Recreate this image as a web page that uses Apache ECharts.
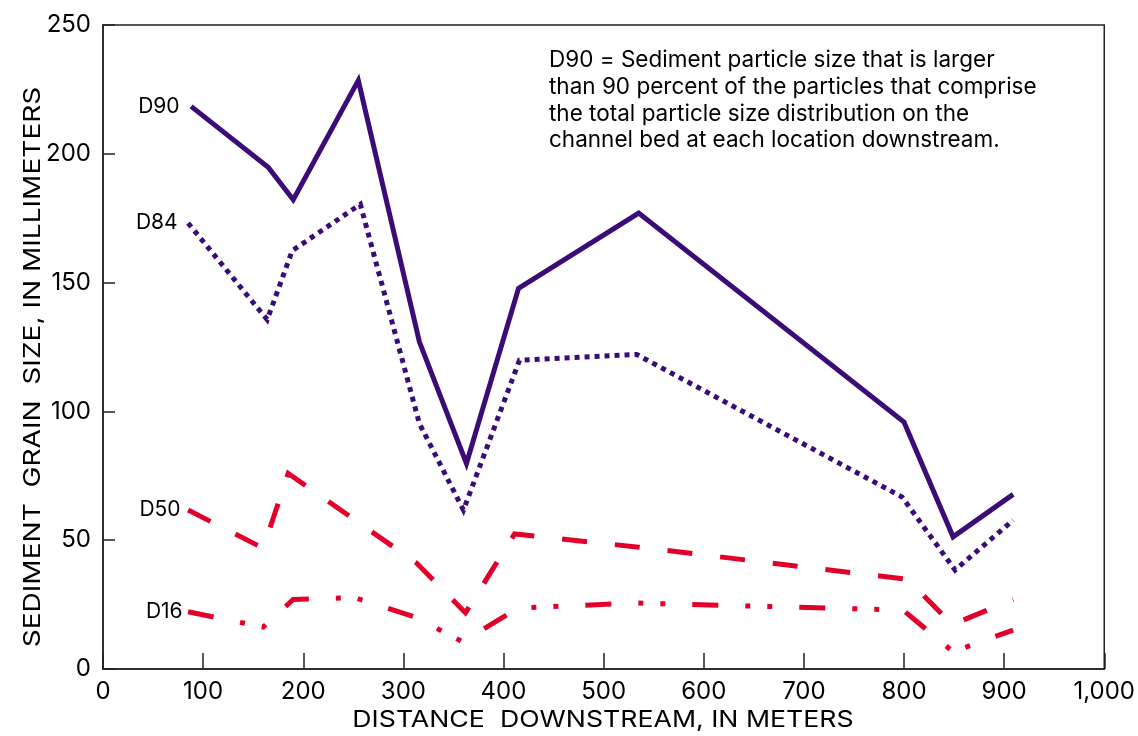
<!DOCTYPE html>
<html>
<head>
<meta charset="utf-8">
<script src="https://cdn.jsdelivr.net/npm/echarts@6/dist/echarts.min.js"></script>
<style>
  html, body { margin: 0; padding: 0; background: #fff; }
  #chart { width: 1138px; height: 736px; }
</style>
</head>
<body>
<div id="chart"></div>
<script>
// distance downstream (m) and grain size (mm)
var distD90 = [88, 165, 190, 255, 316, 363, 415, 535, 800, 849, 909];
var d90 = [218.4, 194.8, 182.2, 228.5, 127, 79.8, 147.8, 177, 95.9, 51.3, 67.8];

var distD84 = [85, 164, 189, 257, 316, 360, 416, 533, 798, 851, 909];
var d84 = [173.1, 135.6, 162.4, 180.4, 95.3, 61.7, 119.9, 122.1, 66.8, 38.4, 57.8];

var distD50 = [85, 160, 185, 313, 362, 411, 535, 804, 848, 909];
var d50 = [61.7, 46.9, 75.9, 41.2, 21.8, 52.4, 47.3, 34.8, 17.2, 27];

var distD16 = [85, 160, 190, 251, 310, 359, 415, 533, 799, 849, 909];
var d16 = [22.2, 16.3, 27, 27.7, 20.4, 10.6, 23.7, 25.6, 22.9, 6.7, 15.1];

var note = [
  'D90 = Sediment particle size that is larger',
  'than 90 percent of the particles that comprise',
  'the total particle size distribution on the',
  'channel bed at each location downstream.'
];

var font = 'Inter, "Liberation Sans", Arial, sans-serif';
var purple = '#3b0b78';
var red = '#e2002b';

function pairs(xs, ys) {
  return xs.map(function (x, i) { return [x, ys[i]]; });
}

function line(name, xs, ys, color, type, dist) {
  return {
    name: name,
    type: 'line',
    data: pairs(xs, ys),
    showSymbol: false,
    animation: false,
    lineStyle: { color: color, width: 5, type: type, cap: 'butt', join: 'miter' },
    // curve name sits left of the first point
    markPoint: {
      symbol: 'circle',
      symbolSize: 1,
      itemStyle: { color: 'rgba(0,0,0,0)' },
      label: {
        show: true, position: 'left', distance: dist, formatter: name,
        color: '#000', fontSize: 21, fontFamily: font
      },
      data: [{ coord: [xs[0], ys[0]] }]
    }
  };
}

var myChart = echarts.init(document.getElementById('chart'));

var option = {
  backgroundColor: '#fff',
  textStyle: { fontFamily: font },
  grid: {
    left: 103, right: 31, top: 25, bottom: 67,
    show: true, borderColor: '#222', borderWidth: 1.5
  },
  xAxis: {
    type: 'value',
    min: 0, max: 1000, interval: 100,
    axisLine: { lineStyle: { color: '#222', width: 1.5 } },
    axisTick: { inside: true, length: 16, lineStyle: { color: '#222', width: 1.5 } },
    axisLabel: {
      fontSize: 24, color: '#000', margin: 11, fontFamily: font,
      formatter: function (v) { return v.toLocaleString('en-US'); }
    },
    splitLine: { show: false }
  },
  yAxis: {
    type: 'value',
    min: 0, max: 250, interval: 50,
    axisLine: { show: true, lineStyle: { color: '#222', width: 1.5 } },
    axisTick: { show: true, inside: true, length: 12, lineStyle: { color: '#222', width: 1.5 } },
    axisLabel: { fontSize: 24, color: '#000', margin: 12, fontFamily: font },
    splitLine: { show: false }
  },
  graphic: [
    {
      // axis titles are a little wider than the font, so stretch them
      type: 'text',
      x: 603, y: 720,
      scaleX: 1.16,
      style: {
        text: 'DISTANCE  DOWNSTREAM, IN METERS',
        font: '23px ' + font,
        fill: '#000',
        textAlign: 'center',
        textVerticalAlign: 'middle'
      }
    },
    {
      type: 'text',
      x: 33, y: 367,
      rotation: Math.PI / 2,
      scaleX: 1.22,
      style: {
        text: 'SEDIMENT  GRAIN  SIZE, IN MILLIMETERS',
        font: '23px ' + font,
        fill: '#000',
        textAlign: 'center',
        textVerticalAlign: 'middle'
      }
    },
    {
      type: 'text',
      x: 549, y: 47,
      style: {
        text: note.join('\n'),
        font: '22.5px ' + font,
        lineHeight: 26.7,
        fill: '#000',
        textAlign: 'left',
        textVerticalAlign: 'top'
      }
    }
  ],
  series: [
    line('D90', distD90, d90, purple, 'solid', 11),
    line('D84', distD84, d84, purple, [5, 5], 10),
    line('D50', distD50, d50, red, [25, 28], 7),
    line('D16', distD16, d16, red, [26, 27, 5, 17, 5, 27], 5)
  ]
};

myChart.setOption(option);
</script>
</body>
</html>
